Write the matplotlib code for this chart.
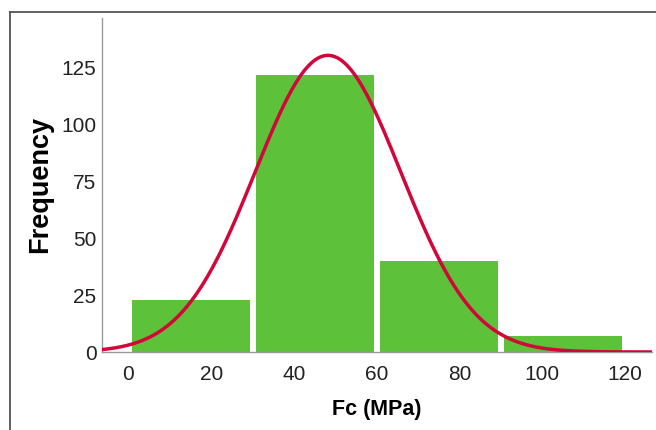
import numpy as np
import matplotlib
matplotlib.use("Agg")
import matplotlib.pyplot as plt
from matplotlib.lines import Line2D

plt.rcParams['font.family'] = ['Liberation Sans', 'DejaVu Sans']

# histogram bins (MPa) and counts
bin_edges = [0, 30, 60, 90, 120]
counts = [23, 122, 40, 7]

# fitted normal curve parameters
fc_mean = 48.2
fc_std = 17.6

xticks = [0, 20, 40, 60, 80, 100, 120]
yticks = [0, 25, 50, 75, 100, 125]

fig = plt.figure(figsize=(6.56, 4.30), dpi=100)
ax = fig.add_axes([102 / 656, 1 - 352 / 430, 550 / 656, 334 / 430])

centers = [(a + b) / 2 for a, b in zip(bin_edges[:-1], bin_edges[1:])]
bw = bin_edges[1] - bin_edges[0]
ax.bar(centers, counts, width=bw - 1.5, color='#5dc13a', linewidth=0, zorder=1)

# normal curve scaled to counts
n_total = sum(counts)
xs = np.linspace(-6.5, 126.5, 400)
ys = n_total * bw / (fc_std * np.sqrt(2 * np.pi)) * np.exp(-0.5 * ((xs - fc_mean) / fc_std) ** 2)
ax.plot(xs, ys, color='#d2063a', lw=2.5, zorder=3, solid_capstyle='butt')

ax.set_xlim(-6.4, 126.5)
ax.set_ylim(0, 147)
ax.set_xticks(xticks)
ax.set_yticks(yticks)
ax.tick_params(length=0, labelsize=15, labelcolor='#222222')
ax.tick_params(axis='x', pad=9)
ax.tick_params(axis='y', pad=4)

for s in ['top', 'right']:
    ax.spines[s].set_visible(False)
for s in ['left', 'bottom']:
    ax.spines[s].set_color('#9a9a9a')
    ax.spines[s].set_linewidth(1.0)
    ax.spines[s].set_zorder(2)

ax.set_ylabel('Frequency', fontsize=19.5, fontweight='bold')
ax.yaxis.set_label_coords(-(102 - 40) / 550, (352 - 184) / 334)
ax.set_xlabel('Fc (MPa)', fontsize=15.5, fontweight='bold')
ax.xaxis.set_label_coords((377 - 102) / 550, -(410 - 352) / 334)
ax.xaxis.label.set_va('center')
ax.yaxis.label.set_va('center')

# outer frame (top and left edges only)
fig.add_artist(Line2D([9.5 / 656, 1], [1 - 11.5 / 430] * 2, transform=fig.transFigure,
                      color='#555555', lw=1.3))
fig.add_artist(Line2D([9.5 / 656] * 2, [0, 1 - 11.5 / 430], transform=fig.transFigure,
                      color='#555555', lw=1.3))

fig.savefig('out.png', dpi=100)
